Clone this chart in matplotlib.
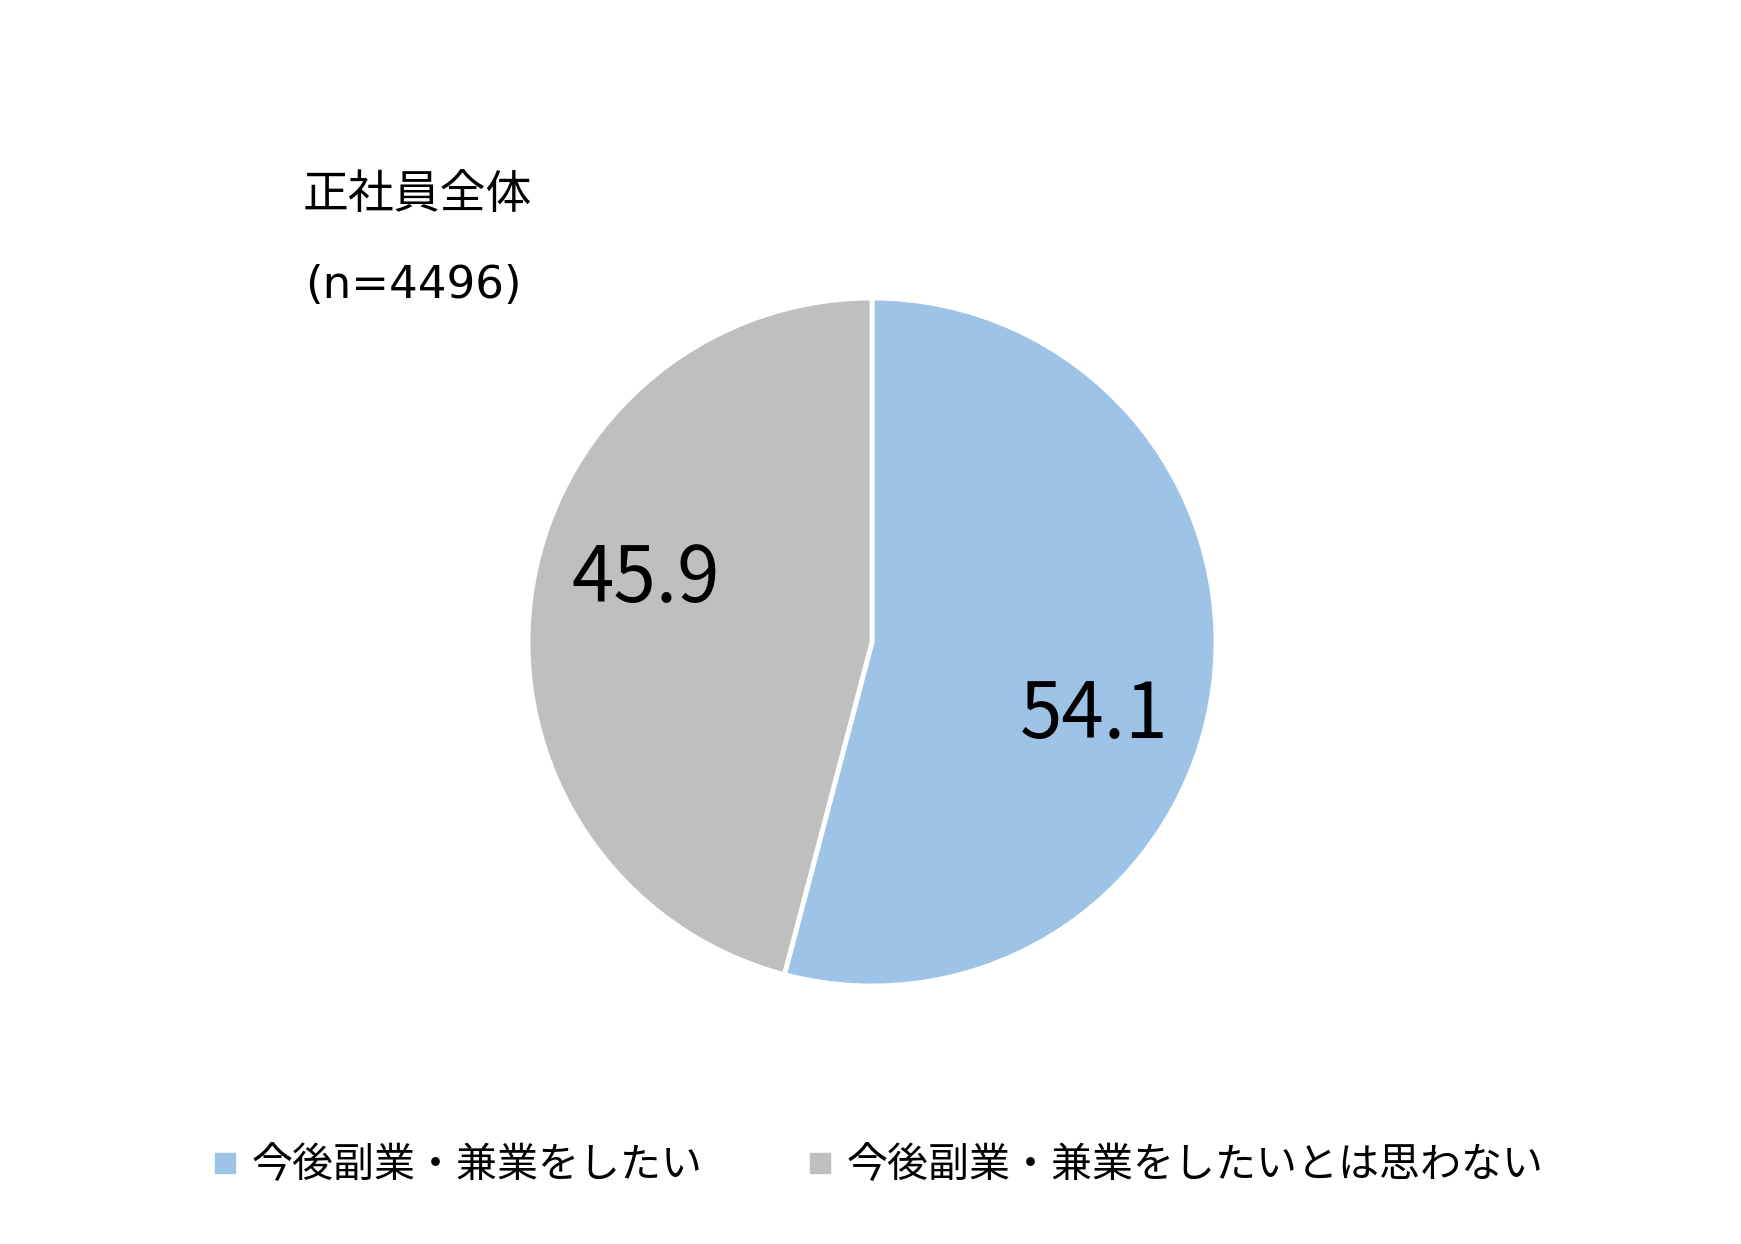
import matplotlib.pyplot as plt
from matplotlib.lines import Line2D

plt.rcParams['font.family'] = ['Noto Sans CJK JP', 'DejaVu Sans']

# データ
labels = ['今後副業・兼業をしたい', '今後副業・兼業をしたいとは思わない']
values = [54.1, 45.9]
colors = ['#9DC3E6', '#BFBFBF']
title_lines = ['正社員全体', '(n=4496)']

W, H = 1741, 1244
fig = plt.figure(figsize=(W / 100, H / 100), dpi=100)

# 円グラフ（中心 872,642 / 半径 344 px）
cx, cy, r = 872, 642, 344
ax = fig.add_axes([(cx - r) / W, (H - cy - r) / H, 2 * r / W, 2 * r / H])
wedges, texts = ax.pie(values, colors=colors, startangle=90, counterclock=False,
                       radius=1, wedgeprops=dict(edgecolor='white', linewidth=3.5))
ax.set_xlim(-1, 1)
ax.set_ylim(-1, 1)
ax.set_aspect('equal')

# 数値ラベル
ax.text((1094 - cx) / r, (cy - 716) / r, f'{values[0]:.1f}', fontsize=55,
        ha='center', va='center')
ax.text((646 - cx) / r, (cy - 580) / r, f'{values[1]:.1f}', fontsize=55,
        ha='center', va='center')

# タイトル
fig.text(303 / W, 1 - 195 / H, title_lines[0], fontsize=33, ha='left', va='center')
fig.text(305 / W, 1 - 286 / H, title_lines[1], fontsize=32.5, ha='left', va='center',
         family=['DejaVu Sans'])

# 凡例
handles = [Line2D([0], [0], marker='s', linestyle='none', markersize=15,
                  markerfacecolor=c, markeredgecolor=c) for c in colors]
fig.legend(handles, labels, loc='center', bbox_to_anchor=(879 / W, 1 - 1166 / H),
           ncol=2, frameon=False, fontsize=29.5, handlelength=0.5,
           handletextpad=0.4, columnspacing=2.6)

fig.savefig('out.png', dpi=100)
